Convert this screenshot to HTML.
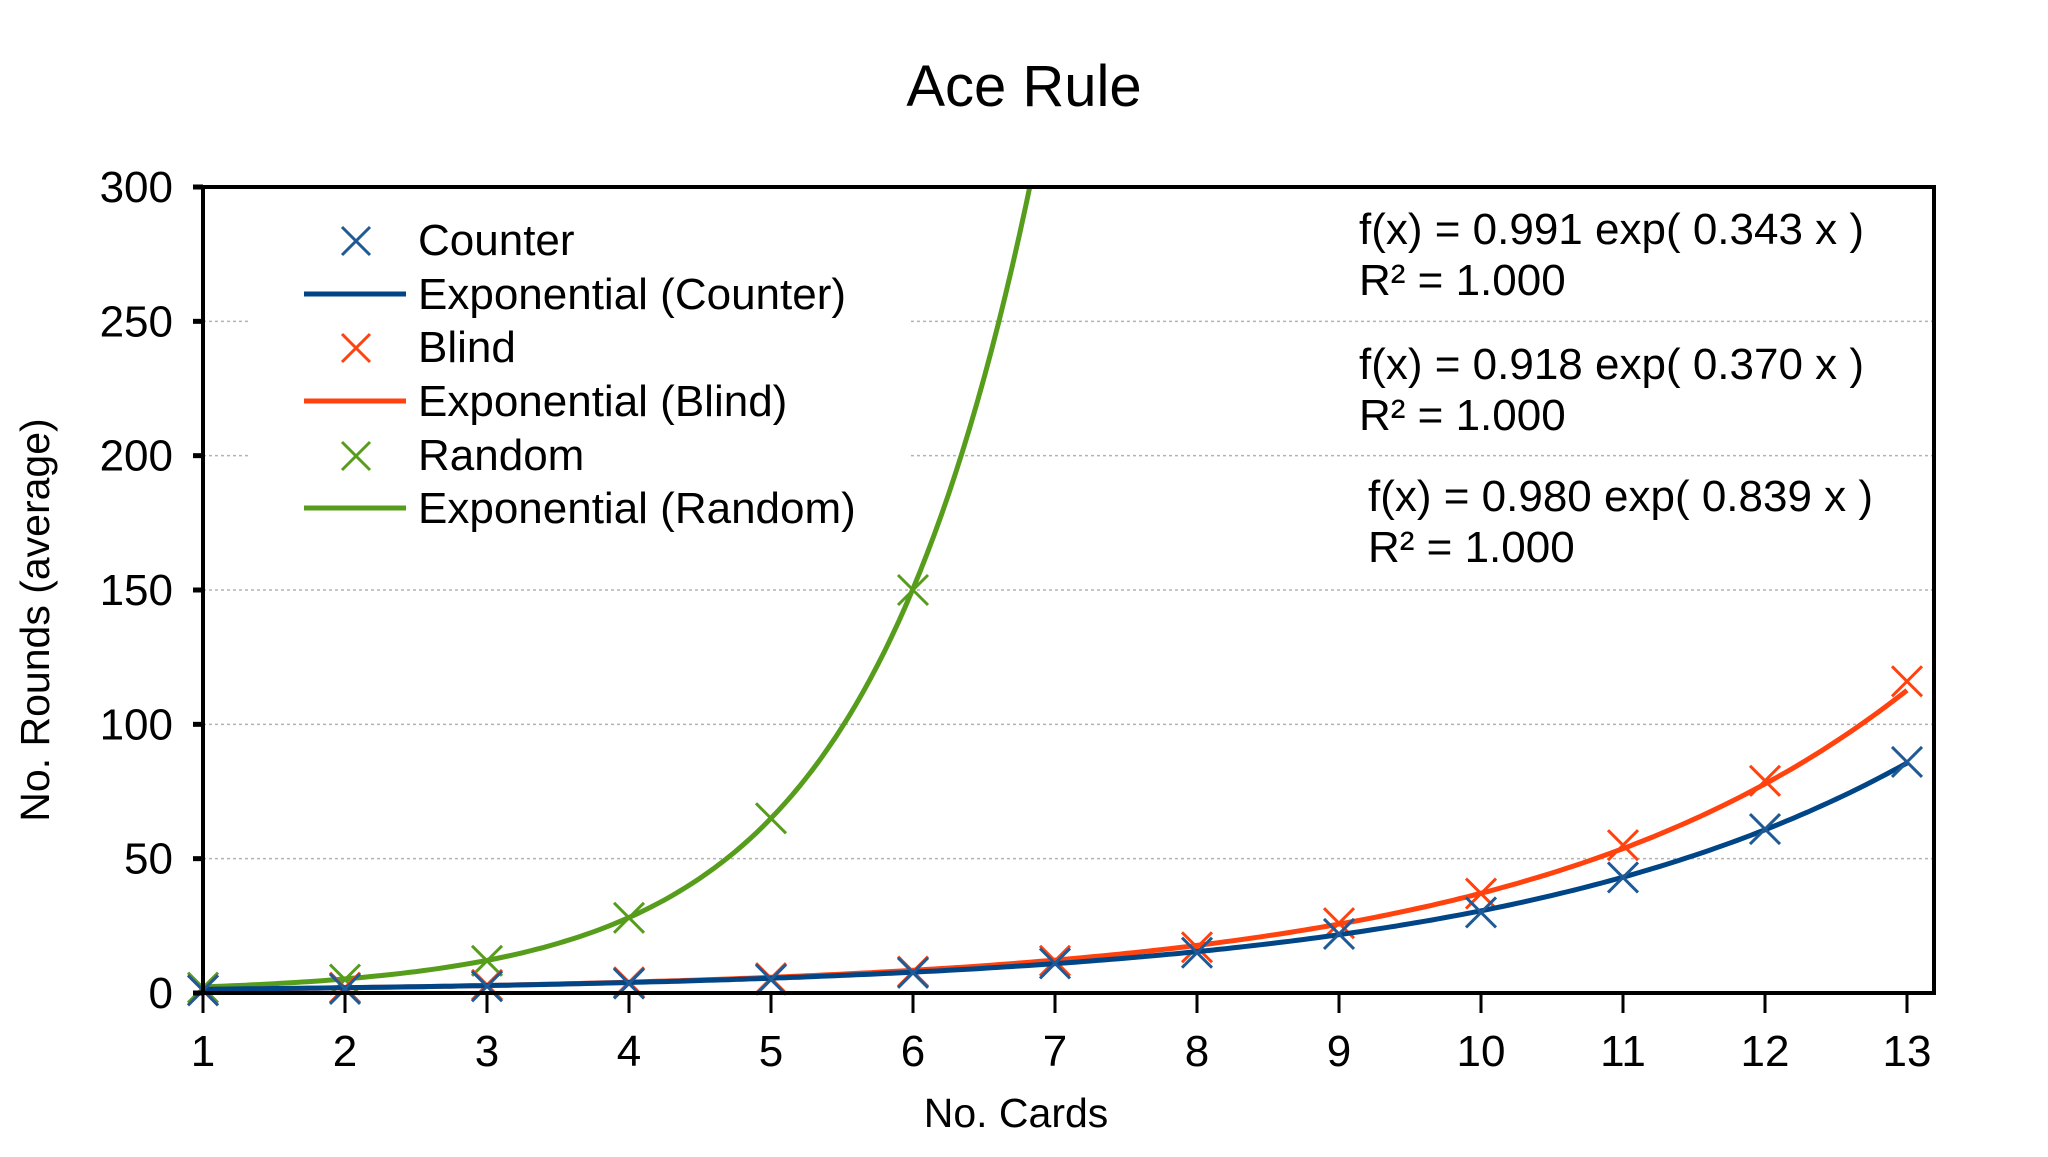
<!DOCTYPE html>
<html><head><meta charset="utf-8"><style>
body{margin:0;background:#fff}
svg text{font-family:"Liberation Sans",sans-serif;fill:#000}
</style></head><body>
<svg width="2048" height="1152" viewBox="0 0 2048 1152" id="chart">
<text x="1024" y="106" font-size="58" text-anchor="middle">Ace Rule</text>
<g id="grid"></g>
<rect x="248" y="200" width="660" height="356" fill="#fff"/>
<g id="series"></g>
<g id="axes"></g>
<g font-size="44">
 <g><path d="M342 227 L370 255 M370 227 L342 255" stroke="#1f5a96" stroke-width="3"/><text x="418" y="255">Counter</text></g>
 <g><line x1="304" y1="294" x2="406" y2="294" stroke="#004586" stroke-width="5"/><text x="418" y="309">Exponential (Counter)</text></g>
 <g><path d="M342 334 L370 362 M370 334 L342 362" stroke="#ff420e" stroke-width="3"/><text x="418" y="362">Blind</text></g>
 <g><line x1="304" y1="401" x2="406" y2="401" stroke="#ff420e" stroke-width="5"/><text x="418" y="416">Exponential (Blind)</text></g>
 <g><path d="M342 442 L370 470 M370 442 L342 470" stroke="#579d1c" stroke-width="3"/><text x="418" y="470">Random</text></g>
 <g><line x1="304" y1="508" x2="406" y2="508" stroke="#579d1c" stroke-width="5"/><text x="418" y="523">Exponential (Random)</text></g>
</g>
<g font-size="44">
 <text x="1359" y="244">f(x) = 0.991 exp( 0.343 x )</text>
 <text x="1359" y="295">R² = 1.000</text>
 <text x="1359" y="379">f(x) = 0.918 exp( 0.370 x )</text>
 <text x="1359" y="430">R² = 1.000</text>
 <text x="1368" y="511">f(x) = 0.980 exp( 0.839 x )</text>
 <text x="1368" y="562">R² = 1.000</text>
</g>
<text x="1016" y="1127" font-size="41" text-anchor="middle">No. Cards</text>
<text transform="translate(49,620) rotate(-90)" font-size="41" text-anchor="middle">No. Rounds (average)</text>
</svg>
<script>
const categories=[1,2,3,4,5,6,7,8,9,10,11,12,13];
const counterValues=[1,1.5,2.5,3.5,5,7.5,11,15,22,30,43,61,86];
const blindValues=[1,2,3,4,5.5,8,12,17,26,37,55,79,116];
const randomValues=[2,5,12,28,65,150];
const yTicks=[0,50,100,150,200,250,300];
const fitCounter=[0.991,0.343];
const fitBlind=[0.918,0.370];
const fitRandom=[0.980,0.839];
const NS="http://www.w3.org/2000/svg";
const X0=203,X1=1907,XR=1934,Y0=993,Y1=187;
function xs(v){return X0+(v-1)*(X1-X0)/12;}
function ys(v){return Y0-v*(Y0-Y1)/300;}
function mk(tag,attrs,parent){const e=document.createElementNS(NS,tag);for(const k in attrs)e.setAttribute(k,attrs[k]);parent.appendChild(e);return e;}
const grid=document.getElementById('grid'),axes=document.getElementById('axes'),series=document.getElementById('series');
yTicks.forEach(t=>{
 if(t>0&&t<300){const g=mk('line',{x1:X0,x2:XR,y1:ys(t),y2:ys(t),stroke:'#b3b3b3','stroke-width':1.5,'stroke-dasharray':'3,3'},grid);
 
 }
 const tk=mk('line',{x1:X0-10,x2:X0,y1:ys(t),y2:ys(t),stroke:'#000','stroke-width':5},axes);
 
 
 const lb=mk('text',{x:X0-30,y:ys(t)+15,'font-size':44,'text-anchor':'end'},axes);lb.textContent=t;
 
 
});
categories.forEach(c=>{
 const tk=mk('line',{x1:xs(c),x2:xs(c),y1:Y0,y2:Y0+20,stroke:'#000','stroke-width':3},axes);
 
 
 const lb=mk('text',{x:xs(c),y:1066,'font-size':44,'text-anchor':'middle'},axes);lb.textContent=c;
 
 
});
const frame=mk('path',{d:`M${X0} ${Y1} L${XR} ${Y1} L${XR} ${Y0} L${X0} ${Y0} Z`,fill:'none',stroke:'#000','stroke-width':4},axes);


const clip=mk('clipPath',{id:'pc'},series);mk('rect',{x:X0,y:Y1,width:XR-X0,height:Y0-Y1},clip);
function curve(fit,color,name){
 let d='';for(let i=0;i<=240;i++){const x=1+12*i/240;const y=fit[0]*Math.exp(fit[1]*x);d+=(i?'L':'M')+xs(x).toFixed(1)+' '+ys(Math.min(y,400)).toFixed(1);}
 const p=mk('path',{d:d,fill:'none',stroke:color,'stroke-width':5,'clip-path':'url(#pc)'},series);
 
 
}
function marks(vals,color,name){
 vals.forEach((v,i)=>{const x=xs(categories[i]),y=ys(v),s=15;
 const m=mk('path',{d:`M${x-s} ${y-s} L${x+s} ${y+s} M${x+s} ${y-s} L${x-s} ${y+s}`,stroke:color,'stroke-width':3},series);
 
 });
}
curve(fitRandom,'#579d1c','exp-random-line');
marks(randomValues,'#579d1c','random');
curve(fitBlind,'#ff420e','exp-blind-line');
marks(blindValues,'#ff420e','blind');
curve(fitCounter,'#004586','exp-counter-line');
marks(counterValues,'#1f5a96','counter');
</script>
</body></html>
